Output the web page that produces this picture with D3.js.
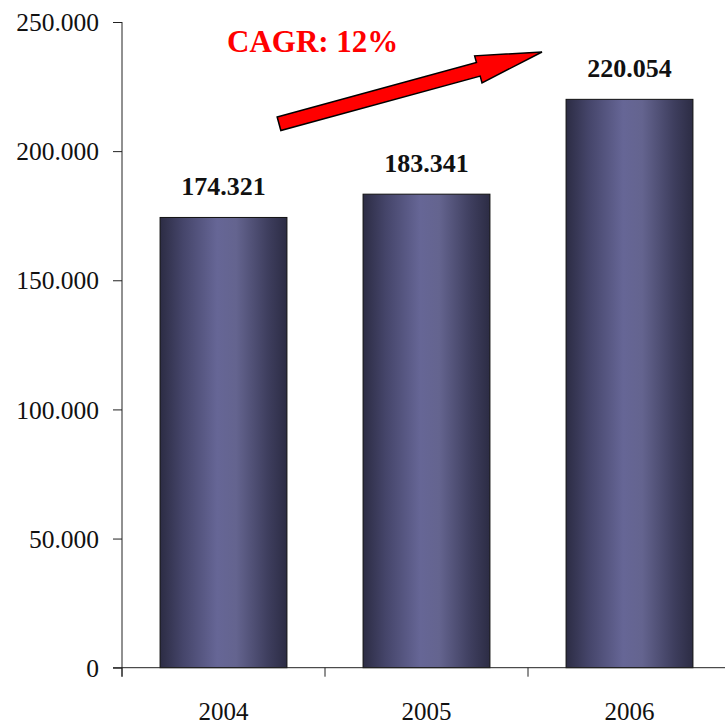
<!DOCTYPE html>
<html>
<head>
<meta charset="utf-8">
<script src="https://cdn.jsdelivr.net/npm/d3@7/dist/d3.min.js"></script>
<style>
  html, body { margin: 0; padding: 0; background: #fff; }
  svg { display: block; }
</style>
</head>
<body>
<svg id="chart" width="725" height="726"></svg>
<script>
const categories = ["2004", "2005", "2006"];
const values = [174321, 183341, 220054];
const valueLabels = ["174.321", "183.341", "220.054"];
const yTicks = [0, 50000, 100000, 150000, 200000, 250000];
const yTickLabels = ["0", "50.000", "100.000", "150.000", "200.000", "250.000"];
const cagrLabel = "CAGR: 12%";

const W = 725, H = 726;
const margin = { left: 122, top: 22, bottom: 58 };
const svg = d3.select("#chart");
const font = "'Liberation Serif', 'DejaVu Serif', serif";

const x = d3.scaleBand().domain(categories)
  .range([margin.left, margin.left + 609]).paddingInner(0.375).paddingOuter(0.1875);
const y = d3.scaleLinear().domain([0, 250000]).range([H - margin.bottom - 0.3, margin.top]);

// gradient
const defs = svg.append("defs");
const grad = defs.append("linearGradient").attr("id", "barGrad")
  .attr("x1", "0%").attr("x2", "100%").attr("y1", "0%").attr("y2", "0%");
[[0, "#2c2c44"], [0.18, "#45456a"], [0.45, "#666696"], [0.6, "#64648f"], [0.85, "#3e3e5e"], [1, "#2c2c44"]]
  .forEach(([o, c]) => grad.append("stop").attr("offset", o).attr("stop-color", c));

// bars
svg.append("g").selectAll("rect").data(values).join("rect")
  .attr("x", (d, i) => x(categories[i]))
  .attr("y", d => y(d))
  .attr("width", x.bandwidth())
  .attr("height", d => y(0) - y(d))
  .attr("fill", "url(#barGrad)")
  .attr("stroke", "#111")
  .attr("stroke-width", 1);

// value labels
svg.append("g").selectAll("text").data(values).join("text")
  .attr("x", (d, i) => x(categories[i]) + x.bandwidth() / 2)
  .attr("y", d => y(d) - 22)
  .attr("text-anchor", "middle")
  .attr("font-family", font)
  .attr("font-weight", "bold")
  .attr("font-size", 26)
  .attr("fill", "#111")
  .text((d, i) => valueLabels[i]);

// y axis
const yAxis = d3.axisLeft(y).tickValues(yTicks)
  .tickFormat((d, i) => yTickLabels[i]).tickSize(9).tickPadding(14);
const gy = svg.append("g").attr("transform", `translate(${margin.left},0)`).call(yAxis);
gy.select(".domain").attr("stroke", "#222").attr("d", `M-0,${margin.top}V${y(0) + 9}`);
gy.selectAll(".tick line").attr("stroke", "#222");
gy.selectAll("text").attr("font-family", font).attr("font-size", 25.5).attr("fill", "#111")
  .attr("dy", "0.34em");

// x axis
const xStep = x.step();
const gx = svg.append("g").attr("transform", `translate(0,${y(0)})`);
gx.append("line").attr("x1", margin.left - 9).attr("x2", W).attr("y1", 0).attr("y2", 0)
  .attr("stroke", "#222");
gx.selectAll("line.t").data(categories).join("line").attr("class", "t")
  .attr("x1", c => x(c) - x.paddingOuter() * xStep).attr("x2", c => x(c) - x.paddingOuter() * xStep)
  .attr("y1", 0).attr("y2", 9).attr("stroke", "#222");
gx.selectAll("text").data(categories).join("text")
  .attr("x", c => x(c) + x.bandwidth() / 2)
  .attr("y", 52)
  .attr("text-anchor", "middle")
  .attr("font-family", font).attr("font-size", 25).attr("fill", "#111")
  .text(c => c);

// CAGR annotation
svg.append("text")
  .attr("x", 227).attr("y", y(238500))
  .attr("font-family", font).attr("font-weight", "bold").attr("font-size", 31)
  .attr("fill", "#ff0000")
  .text(cagrLabel);

// arrow: from tail (between 2004 and 2005) to tip near 2006
const tail = [279, y(210600)];
const tip = [542, y(238400)];
const dx = tip[0] - tail[0], dy = tip[1] - tail[1];
const L = Math.hypot(dx, dy);
const ux = dx / L, uy = dy / L, nx = -uy, ny = ux;
const shaftHalf = 7, headHalf = 14, headLen = 66;
const P = (a, b) => [tail[0] + ux * a + nx * b, tail[1] + uy * a + ny * b];
const pts = [
  P(0, -shaftHalf), P(L - headLen, -shaftHalf), P(L - headLen, -headHalf),
  P(L, 0), P(L - headLen, headHalf), P(L - headLen, shaftHalf), P(0, shaftHalf)
];
svg.append("polygon")
  .attr("points", pts.map(p => p.join(",")).join(" "))
  .attr("fill", "#ff0000").attr("stroke", "#000").attr("stroke-width", 1.5)
  .attr("stroke-linejoin", "miter");
</script>
</body>
</html>
